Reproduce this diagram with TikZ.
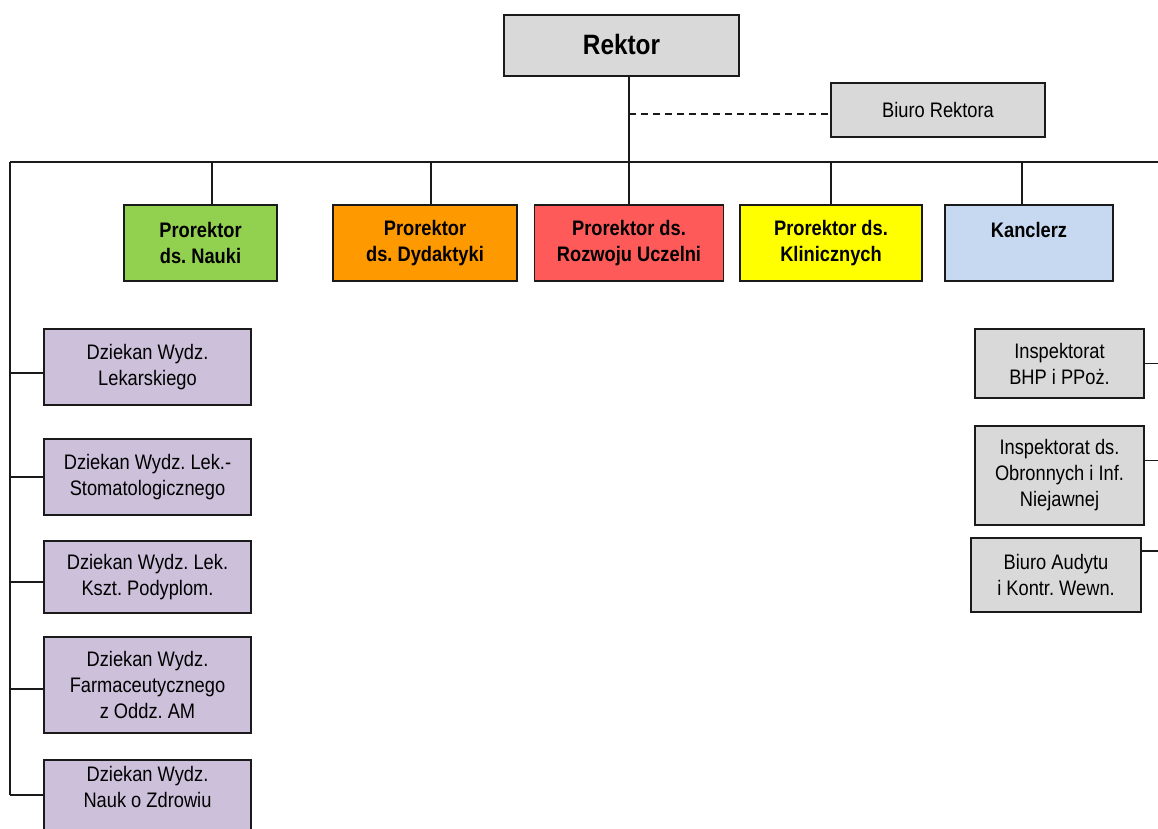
\documentclass[tikz,border=0pt]{standalone}
\usepackage{fontspec}
\setmainfont[FakeStretch=0.87]{Liberation Sans}
\frenchspacing
\definecolor{cgray}{HTML}{D9D9D9}
\definecolor{cgreen}{HTML}{92D050}
\definecolor{corange}{HTML}{FF9900}
\definecolor{cred}{HTML}{FF5A5A}
\definecolor{cyellow}{HTML}{FFFF00}
\definecolor{cblue}{HTML}{C6D9F1}
\definecolor{cpurple}{HTML}{CCC0DA}
\definecolor{cline}{HTML}{1A1A1A}
\begin{document}
\begin{tikzpicture}[x=1pt,y=-1pt,
  box/.style={draw=cline, line width=1.5pt, inner sep=2pt, align=center,
    font=\fontsize{21}{26}\selectfont, text=black},
  pbox/.style={box, font=\fontsize{21}{26}\selectfont\bfseries,
    minimum width=#1, minimum height=76pt},
  dbox/.style={box, fill=cpurple, minimum width=207pt, minimum height=#1},
  gbox/.style={box, fill=cgray},
  conn/.style={draw=cline, line width=1.6pt}]
\clip (0,0) rectangle (1158,828);
\useasboundingbox (0,0) rectangle (1158,828);
\fill[white] (0,0) rectangle (1158,828);

\node[gbox, minimum width=235pt, minimum height=61pt, font=\fontsize{28}{32}\selectfont\bfseries] (rektor) at (621.5,45.5) {\raisebox{2pt}{Rektor}};
\node[gbox, minimum width=214pt, minimum height=54pt] (biuro) at (938,110) {Biuro Rektora};

\node[pbox=153pt, fill=cgreen] (p1) at (200.5,243) {Prorektor\\ds. Nauki};
\node[pbox=184pt, fill=corange] (p2) at (425,243) {Prorektor\\ds. Dydaktyki};
\node[pbox=189pt, fill=cred] (p3) at (629,243) {Prorektor ds.\\Rozwoju Uczelni};
\node[pbox=182pt, fill=cyellow] (p4) at (831,243) {Prorektor ds.\\Klinicznych};
\node[pbox=168pt, fill=cblue] (p5) at (1029,243) {Kanclerz\\\mbox{}};

\node[dbox=76pt] (d1) at (147.5,367) {Dziekan Wydz.\\Lekarskiego};
\node[dbox=76pt] (d2) at (147.5,477) {Dziekan Wydz. Lek.-\\Stomatologicznego};
\node[dbox=72pt] (d3) at (147.5,577) {Dziekan Wydz. Lek.\\Kszt. Podyplom.};
\node[dbox=96pt] (d4) at (147.5,685) {Dziekan Wydz.\\Farmaceutycznego\\z Oddz. AM};
\node[dbox=80pt] (d5) at (147.5,800) {Dziekan Wydz.\\Nauk o Zdrowiu\\\mbox{}};

\node[gbox, minimum width=169pt, minimum height=69pt] (i1) at (1059.5,363.5) {Inspektorat\\BHP i PPoż.};
\node[gbox, minimum width=169pt, minimum height=99pt] (i2) at (1059.5,475.5) {Inspektorat ds.\\Obronnych i Inf.\\Niejawnej};
\node[gbox, minimum width=170pt, minimum height=74pt] (i3) at (1056,575) {Biuro Audytu\\i Kontr. Wewn.};

\coordinate (L) at (10,162);
\coordinate (R) at (1170,162);
\coordinate (Lb) at (10,795);

\draw[conn] (rektor.south -| p3.north) -- (p3.north);
\draw[conn] (L) -- (R);
\draw[conn, dash pattern=on 7pt off 5pt] ([yshift=-4pt]biuro.west -| p3.north) -- ([yshift=-4pt]biuro.west);
\draw[conn] ([xshift=11.5pt]p1.north |- L) -- ([xshift=11.5pt]p1.north);
\draw[conn] ([xshift=6pt]p2.north |- L) -- ([xshift=6pt]p2.north);
\draw[conn] (p4.north |- L) -- (p4.north);
\draw[conn] ([xshift=-7pt]p5.north |- L) -- ([xshift=-7pt]p5.north);
\draw[conn] (L) -- (Lb);
\draw[conn] ([yshift=-6pt]d1.west -| L) -- ([yshift=-6pt]d1.west);
\draw[conn] (d2.west -| L) -- (d2.west);
\draw[conn] ([yshift=-5pt]d3.west -| L) -- ([yshift=-5pt]d3.west);
\draw[conn] ([yshift=-4pt]d4.west -| L) -- ([yshift=-4pt]d4.west);
\draw[conn] (Lb) -- (Lb -| d5.west);
\draw[conn] (i1.east) -- (i1.east -| R);
\draw[conn] ([yshift=15pt]i2.east) -- ([yshift=15pt]i2.east -| R);
\draw[conn] ([yshift=24pt]i3.east) -- ([yshift=24pt]i3.east -| R);
\end{tikzpicture}
\end{document}
